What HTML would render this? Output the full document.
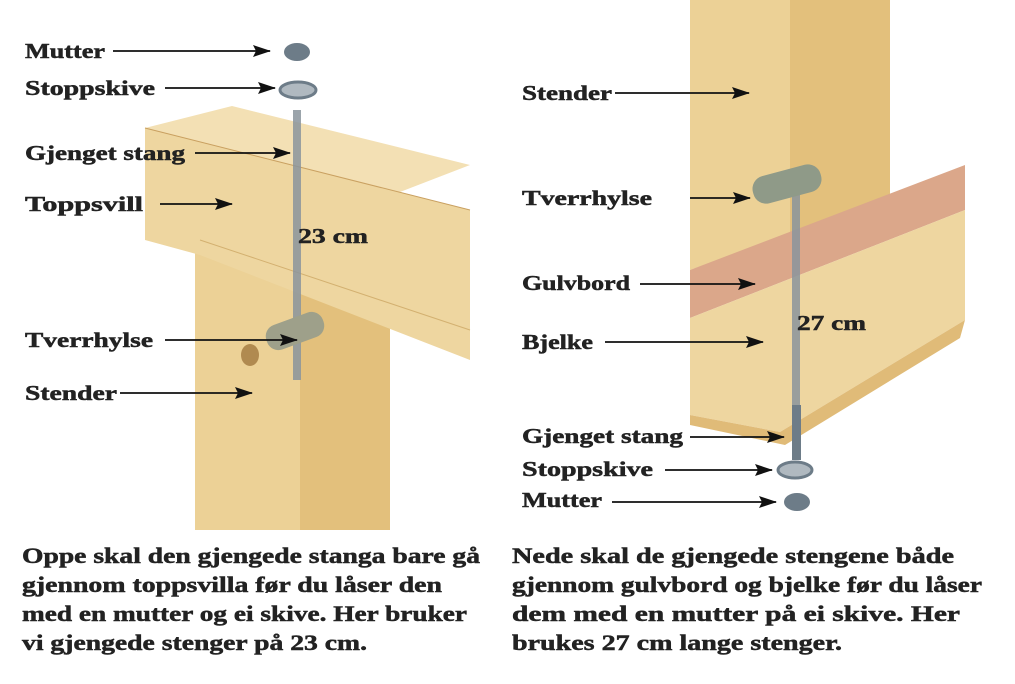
<!DOCTYPE html>
<html><head><meta charset="utf-8"><style>
html,body{margin:0;padding:0;background:#fff;}
svg{display:block;}
text{font-family:"Liberation Serif",serif;font-weight:bold;fill:#222;}
.l{stroke:#222;stroke-width:0.5;}
</style></head><body>
<svg width="1015" height="684" viewBox="0 0 1015 684" xmlns="http://www.w3.org/2000/svg">
<defs>
<marker id="a" markerWidth="18" markerHeight="12" refX="17" refY="6" orient="auto" markerUnits="userSpaceOnUse">
<path d="M0,0 L18,6 L0,12 L3,6 Z" fill="#111"/></marker>
</defs>
<polygon points="195,245 390,255 390,530 195,530" fill="#ecd196"/>
<polygon points="300,250 390,255 390,530 300,530" fill="#e3c07c"/>
<polygon points="145,128 400,192 470,210 470,360 200,255 145,240" fill="#eed6a0"/>
<polygon points="145,128 232,106 470,165 400,192" fill="#f3e0b4"/>
<line x1="145" y1="128" x2="470" y2="210" stroke="#c9a060" stroke-width="1"/>
<line x1="200" y1="240" x2="470" y2="330" stroke="#d3b070" stroke-width="1"/>
<rect x="293" y="110" width="8" height="270" fill="#8a949c" opacity="0.85"/>
<ellipse cx="297" cy="52" rx="13" ry="9" fill="#6d7c88"/>
<ellipse cx="298" cy="90" rx="18" ry="8" fill="#b0b9c0" stroke="#6d7c88" stroke-width="3"/>
<rect x="265" y="318" width="60" height="26" rx="12" fill="#9ea08a" transform="rotate(-20 295 331)"/>
<ellipse cx="250" cy="355" rx="9" ry="11" fill="#b08a50"/>
<polygon points="690,0 890,0 890,200 690,270" fill="#ecd196"/>
<polygon points="790,0 890,0 890,200 790,235" fill="#e3c07c"/>
<polygon points="690,270 965,165 965,210 690,318" fill="#dba78a"/>
<polygon points="690,318 965,210 965,320 780,432 690,415" fill="#eed6a0"/>
<polygon points="690,415 780,432 965,320 960,338 785,445 690,425" fill="#e0bb78"/>
<rect x="792" y="170" width="8" height="290" fill="#8a949c" opacity="0.85"/>
<rect x="792" y="405" width="9" height="55" fill="#6d7c88"/>
<rect x="752" y="170" width="70" height="28" rx="13" fill="#8f9a88" transform="rotate(-15 787 184)"/>
<ellipse cx="795" cy="470" rx="17" ry="8" fill="#b0b9c0" stroke="#6d7c88" stroke-width="3"/>
<ellipse cx="797" cy="502" rx="13" ry="9" fill="#6d7c88"/>
<g font-size="21" class="l">
<text x="25" y="58" textLength="80" lengthAdjust="spacingAndGlyphs">Mutter</text>
<text x="25" y="95" textLength="130" lengthAdjust="spacingAndGlyphs">Stoppskive</text>
<text x="25" y="160" textLength="160" lengthAdjust="spacingAndGlyphs">Gjenget stang</text>
<text x="25" y="211" textLength="118" lengthAdjust="spacingAndGlyphs">Toppsvill</text>
<text x="298" y="243" textLength="70" lengthAdjust="spacingAndGlyphs">23 cm</text>
<text x="25" y="347" textLength="128" lengthAdjust="spacingAndGlyphs">Tverrhylse</text>
<text x="25" y="400" textLength="92" lengthAdjust="spacingAndGlyphs">Stender</text>
<text x="522" y="100" textLength="90" lengthAdjust="spacingAndGlyphs">Stender</text>
<text x="522" y="205" textLength="130" lengthAdjust="spacingAndGlyphs">Tverrhylse</text>
<text x="522" y="290" textLength="108" lengthAdjust="spacingAndGlyphs">Gulvbord</text>
<text x="797" y="330" textLength="69" lengthAdjust="spacingAndGlyphs">27 cm</text>
<text x="522" y="349" textLength="71" lengthAdjust="spacingAndGlyphs">Bjelke</text>
<text x="522" y="443" textLength="161" lengthAdjust="spacingAndGlyphs">Gjenget stang</text>
<text x="522" y="476" textLength="131" lengthAdjust="spacingAndGlyphs">Stoppskive</text>
<text x="522" y="507" textLength="80" lengthAdjust="spacingAndGlyphs">Mutter</text>
</g>
<g stroke="#111" stroke-width="1.8" marker-end="url(#a)">
<line x1="113" y1="51" x2="270" y2="51"/>
<line x1="165" y1="88" x2="275" y2="88"/>
<line x1="195" y1="153" x2="290" y2="153"/>
<line x1="160" y1="204" x2="232" y2="204"/>
<line x1="165" y1="340" x2="297" y2="340"/>
<line x1="120" y1="393" x2="252" y2="393"/>
<line x1="615" y1="93" x2="749" y2="93"/>
<line x1="690" y1="198" x2="750" y2="198"/>
<line x1="640" y1="284" x2="755" y2="284"/>
<line x1="605" y1="342" x2="763" y2="342"/>
<line x1="690" y1="437" x2="784" y2="437"/>
<line x1="665" y1="470" x2="772" y2="470"/>
<line x1="612" y1="502" x2="776" y2="502"/>
</g>
<g font-size="22" class="l">
<text x="22" y="563" textLength="458" lengthAdjust="spacingAndGlyphs">Oppe skal den gjengede stanga bare gå</text>
<text x="22" y="592" textLength="420" lengthAdjust="spacingAndGlyphs">gjennom toppsvilla før du låser den</text>
<text x="22" y="621" textLength="445" lengthAdjust="spacingAndGlyphs">med en mutter og ei skive. Her bruker</text>
<text x="22" y="650" textLength="345" lengthAdjust="spacingAndGlyphs">vi gjengede stenger på 23 cm.</text>
<text x="512" y="563" textLength="442" lengthAdjust="spacingAndGlyphs">Nede skal de gjengede stengene både</text>
<text x="512" y="592" textLength="470" lengthAdjust="spacingAndGlyphs">gjennom gulvbord og bjelke før du låser</text>
<text x="512" y="621" textLength="448" lengthAdjust="spacingAndGlyphs">dem med en mutter på ei skive. Her</text>
<text x="512" y="650" textLength="330" lengthAdjust="spacingAndGlyphs">brukes 27 cm lange stenger.</text>
</g>
</svg>
</body></html>
